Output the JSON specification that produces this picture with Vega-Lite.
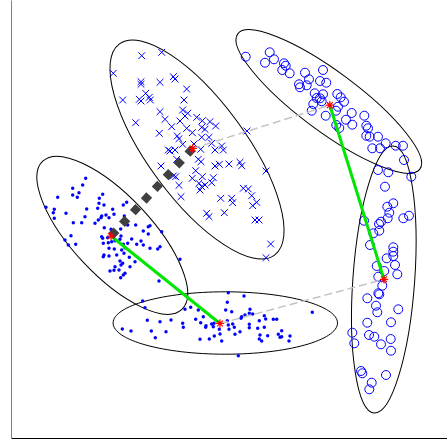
{
"$schema":"https://vega.github.io/schema/vega-lite/v6.json",
"width":436,"height":438,
"autosize":{"type":"none"},
"padding":{"left":11,"top":0,"right":0,"bottom":3},
"background":"white",
"config":{"view":{"stroke":null},"axis":{"ticks":false,"labels":false,"grid":false,"domainWidth":1}},
"datasets":{
"ellipses":[
{"id":"E1","x":197,"y":149.5,"angle":53.7},
{"id":"E2","x":112.3,"y":235.3,"angle":46.8},
{"id":"E3","x":225.3,"y":323,"angle":0},
{"id":"E4","x":328.8,"y":101.5,"angle":36.6},
{"id":"E5","x":383.8,"y":279.5,"angle":94.1}
],
"points":[
{"cluster":"A","x":85.7,"y":178.3},{"cluster":"A","x":82.7,"y":185},{"cluster":"A","x":72.7,"y":188.3},{"cluster":"A","x":79,"y":192.7},{"cluster":"A","x":72.7,"y":195},{"cluster":"A","x":77.3,"y":197.3},{"cluster":"A","x":57.7,"y":197.3},{"cluster":"A","x":46,"y":207.3},{"cluster":"A","x":54.3,"y":209.3},{"cluster":"A","x":53.3,"y":212.7},{"cluster":"A","x":66,"y":213.3},{"cluster":"A","x":54.3,"y":218.3},{"cluster":"A","x":99.3,"y":198.3},{"cluster":"A","x":102.7,"y":194.3},{"cluster":"A","x":99,"y":203.3},{"cluster":"A","x":104,"y":205},{"cluster":"A","x":97.7,"y":208.3},{"cluster":"A","x":86.7,"y":209},{"cluster":"A","x":85,"y":216.7},{"cluster":"A","x":123.3,"y":205},{"cluster":"A","x":126.7,"y":202.3},{"cluster":"A","x":112.7,"y":209.3},{"cluster":"A","x":101.7,"y":216},{"cluster":"A","x":106,"y":215},{"cluster":"A","x":101,"y":217.7},{"cluster":"A","x":109,"y":217.7},{"cluster":"A","x":114,"y":214.3},{"cluster":"A","x":124.3,"y":216},{"cluster":"A","x":73.3,"y":222.7},{"cluster":"A","x":81.7,"y":222.7},{"cluster":"A","x":95,"y":223.3},{"cluster":"A","x":98.3,"y":220},{"cluster":"A","x":104.3,"y":227.7},{"cluster":"A","x":111,"y":229.3},{"cluster":"A","x":120.7,"y":229},{"cluster":"A","x":127.7,"y":225},{"cluster":"A","x":135.7,"y":225},{"cluster":"A","x":148.3,"y":226.7},{"cluster":"A","x":150,"y":225.7},{"cluster":"A","x":143.3,"y":231},{"cluster":"A","x":148.3,"y":234},{"cluster":"A","x":161.7,"y":231.7},{"cluster":"A","x":71,"y":235.7},{"cluster":"A","x":65,"y":240},{"cluster":"A","x":68.3,"y":245},{"cluster":"A","x":75.7,"y":244.3},{"cluster":"A","x":101.7,"y":236.7},{"cluster":"A","x":107.7,"y":237.7},{"cluster":"A","x":121,"y":236},{"cluster":"A","x":120,"y":239.3},{"cluster":"A","x":115,"y":240.7},{"cluster":"A","x":131.7,"y":239},{"cluster":"A","x":136.7,"y":244.3},{"cluster":"A","x":141,"y":241},{"cluster":"A","x":143.3,"y":245},{"cluster":"A","x":103.3,"y":243.3},{"cluster":"A","x":108.3,"y":242.7},{"cluster":"A","x":111.7,"y":241.7},{"cluster":"A","x":102.7,"y":238.3},{"cluster":"A","x":123.3,"y":244.3},{"cluster":"A","x":127.7,"y":243.3},{"cluster":"A","x":109,"y":248.3},{"cluster":"A","x":114.3,"y":249},{"cluster":"A","x":121.7,"y":250},{"cluster":"A","x":125,"y":247.7},{"cluster":"A","x":124,"y":253.3},{"cluster":"A","x":150,"y":248.3},{"cluster":"A","x":157.7,"y":249},{"cluster":"A","x":160,"y":246.7},{"cluster":"A","x":104,"y":255},{"cluster":"A","x":103.3,"y":256.7},{"cluster":"A","x":109,"y":256},{"cluster":"A","x":116.7,"y":255},{"cluster":"A","x":129.3,"y":257.3},{"cluster":"A","x":135,"y":261.7},{"cluster":"A","x":120,"y":261},{"cluster":"A","x":121,"y":265},{"cluster":"A","x":122.7,"y":263.3},{"cluster":"A","x":115,"y":266.7},{"cluster":"A","x":130,"y":266.7},{"cluster":"A","x":110,"y":271},{"cluster":"A","x":114,"y":270.3},{"cluster":"A","x":119,"y":270},{"cluster":"A","x":125,"y":273.3},{"cluster":"A","x":123.3,"y":275},{"cluster":"A","x":120.7,"y":277.7},{"cluster":"A","x":159,"y":281},{"cluster":"A","x":180,"y":259.3},
{"cluster":"B","x":141.7,"y":55.7},{"cluster":"B","x":161.7,"y":52.3},{"cluster":"B","x":113.3,"y":73.3},{"cluster":"B","x":141,"y":81.7},{"cluster":"B","x":141,"y":84.3},{"cluster":"B","x":160,"y":82.3},{"cluster":"B","x":173.3,"y":76.7},{"cluster":"B","x":175,"y":79},{"cluster":"B","x":186.7,"y":89},{"cluster":"B","x":145.7,"y":93.3},{"cluster":"B","x":122.7,"y":100},{"cluster":"B","x":139.3,"y":99.3},{"cluster":"B","x":141,"y":101},{"cluster":"B","x":149.3,"y":97.3},{"cluster":"B","x":150.3,"y":100},{"cluster":"B","x":184,"y":100},{"cluster":"B","x":160,"y":111.7},{"cluster":"B","x":165,"y":119.3},{"cluster":"B","x":135.7,"y":122.7},{"cluster":"B","x":182.7,"y":110},{"cluster":"B","x":185,"y":116},{"cluster":"B","x":187.7,"y":113.3},{"cluster":"B","x":180,"y":121},{"cluster":"B","x":171.7,"y":126.7},{"cluster":"B","x":196.7,"y":117.3},{"cluster":"B","x":202.3,"y":120.7},{"cluster":"B","x":210,"y":121.7},{"cluster":"B","x":215.7,"y":126},{"cluster":"B","x":186.7,"y":128.3},{"cluster":"B","x":192.3,"y":132.7},{"cluster":"B","x":201.7,"y":127.3},{"cluster":"B","x":205,"y":129.3},{"cluster":"B","x":209,"y":137.3},{"cluster":"B","x":159.3,"y":133.3},{"cluster":"B","x":177.3,"y":136},{"cluster":"B","x":179,"y":138.7},{"cluster":"B","x":182.7,"y":144.3},{"cluster":"B","x":194,"y":144},{"cluster":"B","x":201.7,"y":137.3},{"cluster":"B","x":211.7,"y":143.3},{"cluster":"B","x":215,"y":150},{"cluster":"B","x":221.7,"y":146},{"cluster":"B","x":223.3,"y":150},{"cluster":"B","x":170,"y":151},{"cluster":"B","x":175,"y":150},{"cluster":"B","x":200.7,"y":149.3},{"cluster":"B","x":198.3,"y":159.3},{"cluster":"B","x":201,"y":161.7},{"cluster":"B","x":176.7,"y":159.3},{"cluster":"B","x":161,"y":166},{"cluster":"B","x":195.7,"y":170.7},{"cluster":"B","x":215,"y":166},{"cluster":"B","x":219.3,"y":164.3},{"cluster":"B","x":229,"y":164},{"cluster":"B","x":240,"y":162.3},{"cluster":"B","x":241.7,"y":165.7},{"cluster":"B","x":173.3,"y":176},{"cluster":"B","x":175.7,"y":176.7},{"cluster":"B","x":192.3,"y":178.3},{"cluster":"B","x":202.3,"y":176.7},{"cluster":"B","x":213.3,"y":177.7},{"cluster":"B","x":179,"y":185.3},{"cluster":"B","x":199,"y":183.3},{"cluster":"B","x":201.7,"y":186.7},{"cluster":"B","x":205,"y":185},{"cluster":"B","x":211.7,"y":182.7},{"cluster":"B","x":200,"y":190},{"cluster":"B","x":266,"y":171},{"cluster":"B","x":243.3,"y":188.3},{"cluster":"B","x":248.3,"y":189},{"cluster":"B","x":251.7,"y":195.7},{"cluster":"B","x":231.7,"y":198.3},{"cluster":"B","x":232.7,"y":202.7},{"cluster":"B","x":220.7,"y":198.3},{"cluster":"B","x":181,"y":196.7},{"cluster":"B","x":256.7,"y":202.3},{"cluster":"B","x":252.7,"y":205.7},{"cluster":"B","x":206.7,"y":213.3},{"cluster":"B","x":209,"y":216.7},{"cluster":"B","x":224.3,"y":212.7},{"cluster":"B","x":255,"y":220},{"cluster":"B","x":259,"y":220},{"cluster":"B","x":270.7,"y":244},{"cluster":"B","x":266,"y":257.7},{"cluster":"B","x":247,"y":131},{"cluster":"B","x":168.3,"y":150},
{"cluster":"C","x":228.3,"y":292.7},{"cluster":"C","x":244,"y":296},{"cluster":"C","x":142.7,"y":301},{"cluster":"C","x":227.3,"y":302.3},{"cluster":"C","x":145,"y":307.7},{"cluster":"C","x":185,"y":309.3},{"cluster":"C","x":190.7,"y":307.3},{"cluster":"C","x":198.3,"y":310},{"cluster":"C","x":225.7,"y":310},{"cluster":"C","x":231.7,"y":311.7},{"cluster":"C","x":250,"y":309.3},{"cluster":"C","x":249.3,"y":313.3},{"cluster":"C","x":252.7,"y":314},{"cluster":"C","x":312.3,"y":312.3},{"cluster":"C","x":203.3,"y":316.7},{"cluster":"C","x":195.7,"y":319.3},{"cluster":"C","x":171,"y":320},{"cluster":"C","x":160,"y":321.7},{"cluster":"C","x":147.3,"y":320.3},{"cluster":"C","x":182.7,"y":323.3},{"cluster":"C","x":183.3,"y":327.3},{"cluster":"C","x":200.7,"y":322.7},{"cluster":"C","x":206,"y":325.7},{"cluster":"C","x":205.7,"y":327.3},{"cluster":"C","x":211.7,"y":324},{"cluster":"C","x":214,"y":323.3},{"cluster":"C","x":213.3,"y":326.7},{"cluster":"C","x":227.3,"y":320.7},{"cluster":"C","x":228.3,"y":325},{"cluster":"C","x":232.7,"y":324},{"cluster":"C","x":234.3,"y":327.3},{"cluster":"C","x":241,"y":318.3},{"cluster":"C","x":241.7,"y":316.7},{"cluster":"C","x":245,"y":315},{"cluster":"C","x":259.3,"y":320.7},{"cluster":"C","x":264.3,"y":315.7},{"cluster":"C","x":265.7,"y":319},{"cluster":"C","x":273.3,"y":319.3},{"cluster":"C","x":276.7,"y":319.3},{"cluster":"C","x":249.3,"y":324.3},{"cluster":"C","x":249.3,"y":327.7},{"cluster":"C","x":257.7,"y":328.3},{"cluster":"C","x":264.3,"y":327.3},{"cluster":"C","x":122.3,"y":329},{"cluster":"C","x":131,"y":331},{"cluster":"C","x":151.3,"y":331},{"cluster":"C","x":166,"y":331.7},{"cluster":"C","x":219.3,"y":329.3},{"cluster":"C","x":229,"y":329.3},{"cluster":"C","x":240,"y":331.7},{"cluster":"C","x":281.7,"y":330.7},{"cluster":"C","x":155.3,"y":337.7},{"cluster":"C","x":200,"y":339.3},{"cluster":"C","x":209.3,"y":339},{"cluster":"C","x":214.3,"y":336},{"cluster":"C","x":220,"y":334},{"cluster":"C","x":235,"y":334.3},{"cluster":"C","x":260,"y":335},{"cluster":"C","x":267.7,"y":335.7},{"cluster":"C","x":259.3,"y":339},{"cluster":"C","x":261.7,"y":341},{"cluster":"C","x":278.3,"y":334.3},{"cluster":"C","x":280,"y":337.3},{"cluster":"C","x":281.7,"y":336.7},{"cluster":"C","x":290,"y":336},{"cluster":"C","x":289,"y":341},{"cluster":"C","x":221.7,"y":341},{"cluster":"C","x":238.3,"y":355.7},
{"cluster":"D","x":245.7,"y":56.7},{"cluster":"D","x":269.7,"y":52.3},{"cluster":"D","x":274,"y":59.3},{"cluster":"D","x":265,"y":62.7},{"cluster":"D","x":284,"y":63.3},{"cluster":"D","x":285.7,"y":65.7},{"cluster":"D","x":282.3,"y":70},{"cluster":"D","x":289.7,"y":73.3},{"cluster":"D","x":305,"y":72.7},{"cluster":"D","x":323,"y":70},{"cluster":"D","x":309,"y":79.3},{"cluster":"D","x":320,"y":81},{"cluster":"D","x":326.3,"y":82.7},{"cluster":"D","x":299,"y":84.3},{"cluster":"D","x":300,"y":87.3},{"cluster":"D","x":306.7,"y":85.3},{"cluster":"D","x":314.7,"y":93.3},{"cluster":"D","x":323,"y":94.3},{"cluster":"D","x":320,"y":98.3},{"cluster":"D","x":316.7,"y":98},{"cluster":"D","x":321.7,"y":101.3},{"cluster":"D","x":313.3,"y":104},{"cluster":"D","x":311.7,"y":110.7},{"cluster":"D","x":337.3,"y":94},{"cluster":"D","x":340.7,"y":97.3},{"cluster":"D","x":344,"y":101.7},{"cluster":"D","x":338,"y":106.7},{"cluster":"D","x":336,"y":110.7},{"cluster":"D","x":325.7,"y":115.7},{"cluster":"D","x":351.7,"y":113},{"cluster":"D","x":346,"y":119.7},{"cluster":"D","x":352.3,"y":124.7},{"cluster":"D","x":336.3,"y":125},{"cluster":"D","x":339.3,"y":128},{"cluster":"D","x":364.3,"y":115.7},{"cluster":"D","x":366.3,"y":125.7},{"cluster":"D","x":368,"y":128.3},{"cluster":"D","x":366.3,"y":135.7},{"cluster":"D","x":369.7,"y":136.7},{"cluster":"D","x":378,"y":136.7},{"cluster":"D","x":385.7,"y":143.3},{"cluster":"D","x":372.3,"y":148.3},{"cluster":"D","x":380,"y":148.3},{"cluster":"D","x":395.7,"y":145.7},{"cluster":"D","x":403,"y":145.7},{"cluster":"D","x":404,"y":160},{"cluster":"D","x":378,"y":170},{"cluster":"D","x":388.3,"y":172.3},{"cluster":"D","x":411.3,"y":176.7},
{"cluster":"E","x":385,"y":186.7},{"cluster":"E","x":393.3,"y":203.3},{"cluster":"E","x":387.3,"y":206.7},{"cluster":"E","x":389.3,"y":212.7},{"cluster":"E","x":364,"y":220.7},{"cluster":"E","x":381,"y":221.7},{"cluster":"E","x":379,"y":224},{"cluster":"E","x":387.7,"y":218.3},{"cluster":"E","x":403.3,"y":218.3},{"cluster":"E","x":409,"y":215.7},{"cluster":"E","x":373.3,"y":233.3},{"cluster":"E","x":379.3,"y":230.7},{"cluster":"E","x":370,"y":245},{"cluster":"E","x":393.3,"y":247.3},{"cluster":"E","x":393.3,"y":251.7},{"cluster":"E","x":393.3,"y":256},{"cluster":"E","x":386.7,"y":258.3},{"cluster":"E","x":395,"y":265},{"cluster":"E","x":376.7,"y":266},{"cluster":"E","x":397.3,"y":274.3},{"cluster":"E","x":384.3,"y":271},{"cluster":"E","x":378.3,"y":276.7},{"cluster":"E","x":382.3,"y":285.7},{"cluster":"E","x":378.3,"y":293.3},{"cluster":"E","x":379.3,"y":294.3},{"cluster":"E","x":367.3,"y":298.3},{"cluster":"E","x":376,"y":305.7},{"cluster":"E","x":377.3,"y":312.3},{"cluster":"E","x":398.3,"y":309.3},{"cluster":"E","x":367.3,"y":322.7},{"cluster":"E","x":391,"y":322.3},{"cluster":"E","x":352.3,"y":332.7},{"cluster":"E","x":354.3,"y":343.3},{"cluster":"E","x":369,"y":335},{"cluster":"E","x":374.3,"y":336.7},{"cluster":"E","x":381,"y":344.3},{"cluster":"E","x":390.7,"y":339},{"cluster":"E","x":391,"y":350.7},{"cluster":"E","x":361,"y":371},{"cluster":"E","x":362.3,"y":373.3},{"cluster":"E","x":386,"y":375},{"cluster":"E","x":371.7,"y":382.7},{"cluster":"E","x":369.3,"y":389.3}
],
"centroids":[
{"cluster":"A","x":111,"y":236},{"cluster":"B","x":192.7,"y":148.5},{"cluster":"C","x":220,"y":323.5},{"cluster":"D","x":329.8,"y":105.2},{"cluster":"E","x":384,"y":279.3}
],
"links":[
{"link":"AC","style":"green","step":1,"x":111,"y":236},{"link":"AC","style":"green","step":2,"x":220,"y":323.5},
{"link":"DE","style":"green","step":1,"x":329.8,"y":105.2},{"link":"DE","style":"green","step":2,"x":384,"y":279.3},
{"link":"BD","style":"gray","step":1,"x":192.7,"y":148.5},{"link":"BD","style":"gray","step":2,"x":329.8,"y":105.2},
{"link":"CE","style":"gray","step":1,"x":220,"y":323.5},{"link":"CE","style":"gray","step":2,"x":384,"y":279.3},
{"link":"AB","style":"dark","step":1,"x":111,"y":236},{"link":"AB","style":"dark","step":2,"x":192.7,"y":148.5}
]
},
"encoding":{
"x":{"field":"x","type":"quantitative","scale":{"domain":[11,447],"nice":false,"zero":false},"axis":{"title":null,"domainColor":"#000000"}},
"y":{"field":"y","type":"quantitative","scale":{"domain":[0,438],"nice":false,"zero":false,"reverse":true},"axis":{"title":null,"domainColor":"#808080"}}
},
"layer":[
{"data":{"name":"ellipses"},
 "mark":{"type":"point","filled":false,"color":"#000000","strokeWidth":1,"opacity":1,"size":4},
 "encoding":{
  "shape":{"field":"id","type":"nominal","legend":null,"scale":{"domain":["E1","E2","E3","E4","E5"],"range":[
"M131,0C131,27.06,72.35,49,0,49C-72.35,49,-131,27.06,-131,0C-131,-27.06,-72.35,-49,0,-49C72.35,-49,131,-27.06,131,0Z",
"M101.6,0C101.6,21.87,56.11,39.6,0,39.6C-56.11,39.6,-101.6,21.87,-101.6,0C-101.6,-21.87,-56.11,-39.6,0,-39.6C56.11,-39.6,101.6,-21.87,101.6,0Z",
"M112.2,0C112.2,17.23,61.97,31.2,0,31.2C-61.97,31.2,-112.2,17.23,-112.2,0C-112.2,-17.23,-61.97,-31.2,0,-31.2C61.97,-31.2,112.2,-17.23,112.2,0Z",
"M113.4,0C113.4,16.4,62.63,29.7,0,29.7C-62.63,29.7,-113.4,16.4,-113.4,0C-113.4,-16.4,-62.63,-29.7,0,-29.7C62.63,-29.7,113.4,-16.4,113.4,0Z",
"M133.8,0C133.8,17.07,73.9,30.9,0,30.9C-73.9,30.9,-133.8,17.07,-133.8,0C-133.8,-17.07,-73.9,-30.9,0,-30.9C73.9,-30.9,133.8,-17.07,133.8,0Z"
  ]}},
  "angle":{"field":"angle","type":"quantitative","scale":null}
 }},
{"data":{"name":"points"},"transform":[{"filter":{"field":"cluster","oneOf":["A","C"]}}],
 "mark":{"type":"circle","color":"#0000ff","size":12,"opacity":1}},
{"data":{"name":"points"},"transform":[{"filter":{"field":"cluster","equal":"B"}}],
 "mark":{"type":"point","shape":"M-1,-1L1,1M-1,1L1,-1","filled":false,"color":"#0000ff","size":46,"strokeWidth":1,"opacity":1}},
{"data":{"name":"points"},"transform":[{"filter":{"field":"cluster","oneOf":["D","E"]}}],
 "mark":{"type":"point","shape":"circle","filled":false,"color":"#0000ff","size":80,"strokeWidth":1,"opacity":1}},
{"data":{"name":"links"},"transform":[{"filter":{"field":"style","equal":"green"}}],
 "mark":{"type":"line","color":"#00e600","strokeWidth":3},
 "encoding":{"detail":{"field":"link","type":"nominal"},"order":{"field":"step","type":"quantitative"}}},
{"data":{"name":"links"},"transform":[{"filter":{"field":"style","equal":"gray"}}],
 "mark":{"type":"line","color":"#c4c4c4","strokeWidth":1.5,"strokeDash":[8,4]},
 "encoding":{"detail":{"field":"link","type":"nominal"},"order":{"field":"step","type":"quantitative"}}},
{"data":{"name":"links"},"transform":[{"filter":{"field":"style","equal":"dark"}}],
 "mark":{"type":"line","color":"#404040","strokeWidth":8,"strokeDash":[8,8],"strokeCap":"butt"},
 "encoding":{"detail":{"field":"link","type":"nominal"},"order":{"field":"step","type":"quantitative"}}},
{"data":{"name":"centroids"},
 "mark":{"type":"point","shape":"M-1,0L1,0M0,-1L0,1M-0.7,-0.7L0.7,0.7M-0.7,0.7L0.7,-0.7","filled":false,"color":"#ff0000","size":70,"strokeWidth":1.2,"opacity":1}}
]
}
